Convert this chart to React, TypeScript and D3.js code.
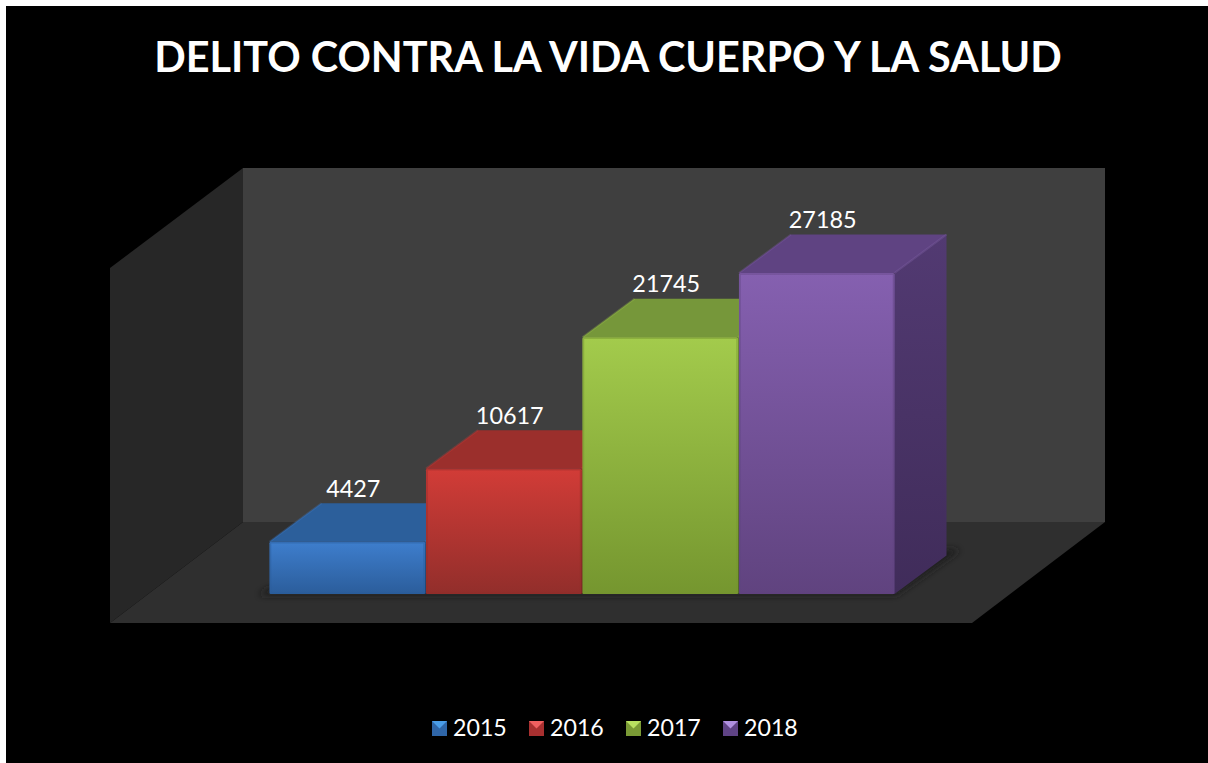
import React from "react";
import * as d3 from "d3";

const years = ["2015", "2016", "2017", "2018"];
const values = [4427, 10617, 21745, 27185];
const titleText = "DELITO CONTRA LA VIDA CUERPO Y LA SALUD";
const frontTop = ["#3e7ecd", "#d23c37", "#a3cb4c", "#8560b0"];
const frontBottom = ["#2b5d9b", "#922e2b", "#75962f", "#60437f"];
const topColors = ["#2c5f9b", "#9b2f2c", "#76973a", "#5f4382"];
const sideTop = ["#2a5a94", "#8f2b28", "#6d8b32", "#523a72"];
const sideBottom = ["#1f4470", "#6c211f", "#536a26", "#402c5a"];
const legendLight = ["#4a9de8", "#f06060", "#b8e060", "#b090e0"];
const legendDark = ["#2f66a8", "#a83030", "#7a9a35", "#5f4385"];

const W = 1208;
const H = 763;
const depthX = 52;
const depthY = -38.5;

const x = d3.scaleBand<string>().domain(years).range([269.5, 894.5]).paddingInner(0.006);
const y = d3.scaleLinear().domain([0, 27185]).range([594, 273]);
const poly = (p: [number, number][]) => (d3.line()(p) as string) + "Z";

export default function App() {
  return (
    <svg
      width={W}
      height={H}
      style={{ position: "absolute", left: 0, top: 0, display: "block" }}
      fontFamily="Lato, Carlito, sans-serif"
    >
      <defs>
        {years.map((yr, i) => (
          <React.Fragment key={yr}>
            <linearGradient id={`f${i}`} x1="0" y1="0" x2="0" y2="1">
              <stop offset="0" stopColor={frontTop[i]} />
              <stop offset="1" stopColor={frontBottom[i]} />
            </linearGradient>
            <linearGradient id={`s${i}`} x1="0" y1="0" x2="0" y2="1">
              <stop offset="0" stopColor={sideTop[i]} />
              <stop offset="1" stopColor={sideBottom[i]} />
            </linearGradient>
          </React.Fragment>
        ))}
        <filter id="blur" x="-20%" y="-50%" width="140%" height="200%">
          <feGaussianBlur stdDeviation="3.5" />
        </filter>
        <clipPath id="floorClip">
          <path d={poly([[110, 623], [243, 522], [1105, 522], [972, 623]])} />
        </clipPath>
      </defs>

      <rect x={0} y={0} width={W} height={H} fill="#ffffff" />
      <rect x={6} y={6} width={W - 6} height={H - 6} fill="#000000" />

      <text
        x={608}
        y={72}
        textAnchor="middle"
        fill="#ffffff"
        fontWeight={700}
        fontSize={41.4}
      >
        {titleText}
      </text>

      {/* walls and floor */}
      <path d={poly([[243, 168], [1105, 168], [1105, 522], [243, 522]])} fill="#3f3f3f" />
      <path d={poly([[110, 268], [243, 168], [243, 522], [110, 623]])} fill="#272727" />
      <path d={poly([[110, 623], [243, 522], [1105, 522], [972, 623]])} fill="#2f2f2f" />

      {/* floor shadow */}
      <g clipPath="url(#floorClip)">
        <path
          d={poly([[258, 595], [896, 595], [960, 550], [945, 549], [894, 588], [270, 588]])}
          fill="#1c1c1c"
          filter="url(#blur)"
        />
      </g>

      {/* bars */}
      {years.map((yr, i) => {
        const x0 = x(yr) as number;
        const x1 = x0 + x.bandwidth();
        const yTop = y(values[i]);
        const yBase = y(0);
        return (
          <g key={yr}>
            <path
              d={poly([[x0, yBase], [x1, yBase], [x1 + depthX, yBase + depthY], [x1 + depthX, yTop + depthY], [x1, yTop]])}
              fill={`url(#s${i})`}
            />
            <path
              d={poly([[x0, yTop], [x0 + depthX, yTop + depthY], [x1 + depthX, yTop + depthY], [x1, yTop]])}
              fill={topColors[i]}
            />
            <path
              d={`M${x1},${yTop}L${x1 + depthX},${yTop + depthY}`}
              stroke={frontTop[i]}
              strokeOpacity={0.35}
              strokeWidth={2}
              fill="none"
            />
            <path
              d={`M${x0},${yTop}L${x0 + depthX},${yTop + depthY}`}
              stroke={frontTop[i]}
              strokeOpacity={0.3}
              strokeWidth={2}
              fill="none"
            />
            <rect
              x={x0}
              y={yTop}
              width={x.bandwidth()}
              height={yBase - yTop}
              fill={`url(#f${i})`}
              rx={1.5}
            />
            <rect
              x={x0 + 1}
              y={yTop + 1}
              width={x.bandwidth() - 2}
              height={yBase - yTop - 2}
              fill="none"
              stroke={frontBottom[i]}
              strokeOpacity={0.5}
              strokeWidth={1.5}
            />
          </g>
        );
      })}

      {/* data labels */}
      {years.map((yr, i) => {
        const cx = (x(yr) as number) + x.bandwidth() / 2 + 6;
        return (
          <text
            key={yr}
            x={cx}
            y={y(values[i]) + depthY - 6.5}
            textAnchor="middle"
            fill="#ffffff"
            fontSize={23.4}
          >
            {values[i]}
          </text>
        );
      })}

      {/* legend */}
      {years.map((yr, i) => {
        const lx = 432 + i * 97;
        const ly = 721;
        const s = 15;
        return (
          <g key={yr}>
            <rect x={lx} y={ly} width={s} height={s} fill={legendDark[i]} />
            <path
              d={poly([[lx, ly], [lx + s, ly], [lx + s / 2, ly + s * 0.5]])}
              fill={legendLight[i]}
            />
            <text x={lx + 21} y={736} fill="#ffffff" fontSize={23.2}>
              {yr}
            </text>
          </g>
        );
      })}
    </svg>
  );
}
